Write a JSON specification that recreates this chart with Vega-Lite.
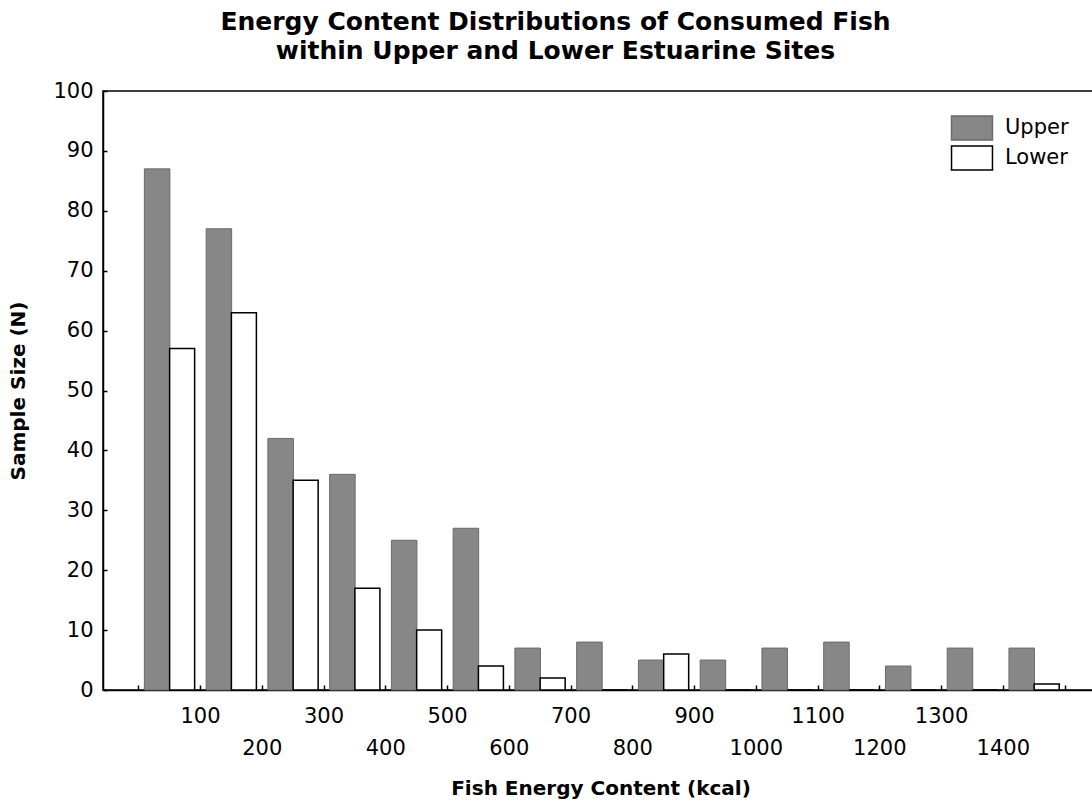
{
  "$schema": "https://vega.github.io/schema/vega-lite/v6.json",
  "width": 995,
  "height": 599,
  "autosize": "none",
  "padding": {"left": 103, "top": 91, "right": 0, "bottom": 117},
  "background": "white",
  "config": {
    "view": {"stroke": "black", "strokeWidth": 1.5},
    "font": "DejaVu Sans",
    "legend": {
      "orient": "none",
      "legendX": 855,
      "legendY": 23,
      "padding": 0,
      "title": null,
      "symbolType": "M-1.6,-0.94H1.6V0.94H-1.6Z",
      "symbolSize": 655,
      "symbolStrokeWidth": 1.5,
      "labelFont": "DejaVu Sans",
      "labelFontSize": 21,
      "labelColor": "black",
      "labelOffset": 19,
      "rowPadding": -9
    }
  },
  "title": {
    "text": ["Energy Content Distributions of Consumed Fish", "within Upper and Lower Estuarine Sites"],
    "font": "DejaVu Sans",
    "fontWeight": "bold",
    "fontSize": 25,
    "lineHeight": 29,
    "anchor": "middle",
    "dx": -45,
    "offset": 16,
    "color": "black"
  },
  "data": {
    "values": [
      {"kcal": 50, "site": "Upper", "n": 87},
      {"kcal": 50, "site": "Lower", "n": 57},
      {"kcal": 150, "site": "Upper", "n": 77},
      {"kcal": 150, "site": "Lower", "n": 63},
      {"kcal": 250, "site": "Upper", "n": 42},
      {"kcal": 250, "site": "Lower", "n": 35},
      {"kcal": 350, "site": "Upper", "n": 36},
      {"kcal": 350, "site": "Lower", "n": 17},
      {"kcal": 450, "site": "Upper", "n": 25},
      {"kcal": 450, "site": "Lower", "n": 10},
      {"kcal": 550, "site": "Upper", "n": 27},
      {"kcal": 550, "site": "Lower", "n": 4},
      {"kcal": 650, "site": "Upper", "n": 7},
      {"kcal": 650, "site": "Lower", "n": 2},
      {"kcal": 750, "site": "Upper", "n": 8},
      {"kcal": 750, "site": "Lower", "n": 0},
      {"kcal": 850, "site": "Upper", "n": 5},
      {"kcal": 850, "site": "Lower", "n": 6},
      {"kcal": 950, "site": "Upper", "n": 5},
      {"kcal": 950, "site": "Lower", "n": 0},
      {"kcal": 1050, "site": "Upper", "n": 7},
      {"kcal": 1050, "site": "Lower", "n": 0},
      {"kcal": 1150, "site": "Upper", "n": 8},
      {"kcal": 1150, "site": "Lower", "n": 0},
      {"kcal": 1250, "site": "Upper", "n": 4},
      {"kcal": 1250, "site": "Lower", "n": 0},
      {"kcal": 1350, "site": "Upper", "n": 7},
      {"kcal": 1350, "site": "Lower", "n": 0},
      {"kcal": 1450, "site": "Upper", "n": 7},
      {"kcal": 1450, "site": "Lower", "n": 1}
    ]
  },
  "layer": [
    {
      "transform": [{"filter": "datum.site === 'Upper'"}],
      "mark": {"type": "bar", "orient": "vertical", "width": 25.5, "xOffset": -12, "strokeWidth": 1},
      "encoding": {
        "x": {
          "field": "kcal",
          "type": "quantitative",
          "scale": {"domain": [-49, 1546], "nice": false, "zero": false},
          "axis": {
            "title": "Fish Energy Content (kcal)",
            "titleFont": "DejaVu Sans",
            "titleFontWeight": "bold",
            "titleFontSize": 20,
            "titleColor": "black",
            "titlePadding": 20,
            "values": [0, 100, 200, 300, 400, 500, 600, 700, 800, 900, 1000, 1100, 1200, 1300, 1400, 1500],
            "labelExpr": "datum.value == 0 || datum.value == 1500 ? '' : (datum.value % 200 == 0 ? ['', format(datum.value, 'd')] : format(datum.value, 'd'))",
            "labelLineHeight": 32,
            "labelOverlap": false,
            "labelFont": "DejaVu Sans",
            "labelFontSize": 21,
            "labelColor": "black",
            "labelPadding": 20,
            "grid": false,
            "domainColor": "black",
            "domainWidth": 1.5,
            "tickColor": "black",
            "tickWidth": 1.5,
            "tickSize": -5
          }
        },
        "y": {
          "field": "n",
          "type": "quantitative",
          "scale": {"domain": [0, 100], "nice": false},
          "axis": {
            "title": "Sample Size (N)",
            "titleFont": "DejaVu Sans",
            "titleFontWeight": "bold",
            "titleFontSize": 20,
            "titleColor": "black",
            "titlePadding": 24,
            "values": [0, 10, 20, 30, 40, 50, 60, 70, 80, 90, 100],
            "labelFont": "DejaVu Sans",
            "labelFontSize": 21,
            "labelColor": "black",
            "labelPadding": 14,
            "grid": false,
            "domainColor": "black",
            "domainWidth": 1.5,
            "tickColor": "black",
            "tickWidth": 1.5,
            "tickSize": -4
          }
        },
        "fill": {"field": "site", "type": "nominal", "title": null, "scale": {"domain": ["Upper", "Lower"], "range": ["#878787", "#ffffff"]}},
        "stroke": {"field": "site", "type": "nominal", "title": null, "scale": {"domain": ["Upper", "Lower"], "range": ["#6a6a6a", "#000000"]}}
      }
    },
    {
      "transform": [{"filter": "datum.site === 'Lower'"}],
      "mark": {"type": "bar", "orient": "vertical", "width": 25, "xOffset": 13, "strokeWidth": 1.5},
      "encoding": {
        "x": {"field": "kcal", "type": "quantitative"},
        "y": {"field": "n", "type": "quantitative"},
        "fill": {"field": "site", "type": "nominal", "title": null},
        "stroke": {"field": "site", "type": "nominal", "title": null}
      }
    }
  ]
}
